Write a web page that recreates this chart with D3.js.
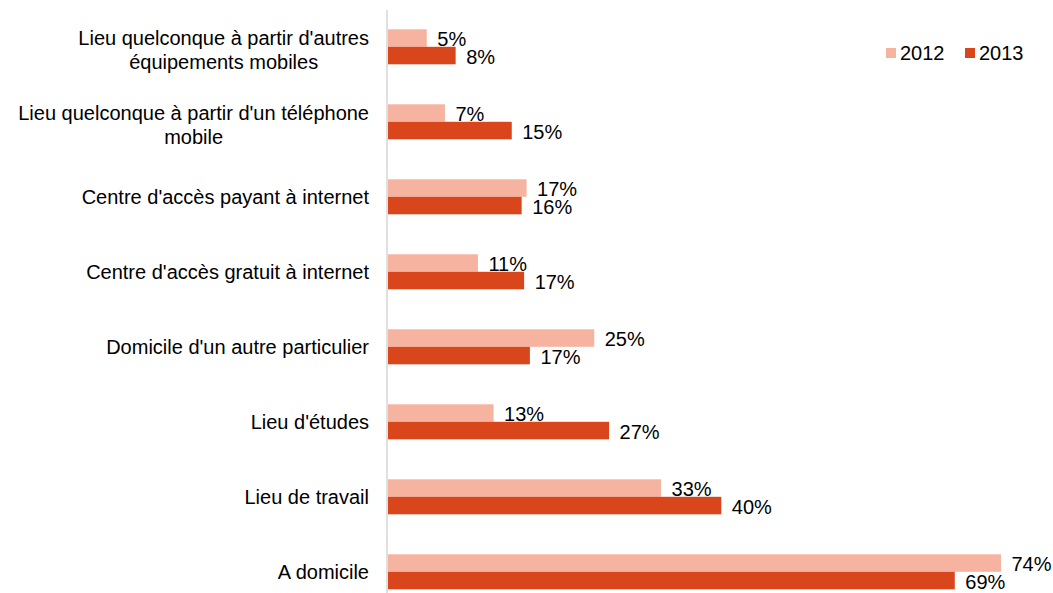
<!DOCTYPE html>
<html>
<head>
<meta charset="utf-8">
<script src="https://cdn.jsdelivr.net/npm/d3@7"></script>
<style>
  html, body { margin: 0; padding: 0; background: #fff; }
  text { font-family: "Liberation Sans", Arial, sans-serif; fill: #000; }
</style>
</head>
<body>
<svg id="chart" width="1053" height="593"></svg>
<script>
const categories = [
  "Lieu quelconque à partir d'autres\néquipements mobiles",
  "Lieu quelconque à partir d'un téléphone\nmobile",
  "Centre d'accès payant à internet",
  "Centre d'accès gratuit à internet",
  "Domicile d'un autre particulier",
  "Lieu d'études",
  "Lieu de travail",
  "A domicile"
];
const seriesNames = ["2012", "2013"];
const values2012 = [4.7, 6.9, 16.8, 10.9, 25.0, 12.8, 33.1, 74.3];
const values2013 = [8.2, 15.0, 16.2, 16.5, 17.2, 26.8, 40.4, 68.7];
const colors = ["#F5B3A0", "#D9461C"];

const svg = d3.select("#chart");
const FS = 20;

const x = d3.scaleLinear().domain([0, 80]).range([388, 1048]);
const y = d3.scaleBand().domain(categories).range([9.3, 609.3])
  .paddingInner(40 / 75).paddingOuter(20 / 75);
const ySub = d3.scaleBand().domain(seriesNames).range([0, y.bandwidth()]);

// axis line
svg.append("line")
  .attr("x1", 387).attr("x2", 387)
  .attr("y1", 10).attr("y2", 593)
  .attr("stroke", "#D9D9D9").attr("stroke-width", 1.6);

const data = categories.map((c, i) => ({ cat: c, vals: [values2012[i], values2013[i]] }));

const groups = svg.selectAll("g.grp").data(data).join("g")
  .attr("class", "grp")
  .attr("transform", d => `translate(0,${y(d.cat)})`);

groups.selectAll("rect").data(d => d.vals.map((v, k) => ({ v, k }))).join("rect")
  .attr("x", x(0))
  .attr("y", d => ySub(seriesNames[d.k]))
  .attr("width", d => x(d.v) - x(0))
  .attr("height", ySub.bandwidth())
  .attr("fill", d => colors[d.k]);

groups.selectAll("text.val").data(d => d.vals.map((v, k) => ({ v, k }))).join("text")
  .attr("class", "val")
  .attr("x", d => x(d.v) + 10.5)
  .attr("y", d => ySub(seriesNames[d.k]) + ySub.bandwidth() / 2 + 1)
  .attr("dy", "0.35em")
  .attr("font-size", FS)
  .text(d => Math.round(d.v) + "%");

// category labels
categories.forEach(c => {
  const lines = c.split("\n");
  const cy = y(c) + y.bandwidth() / 2 + (lines.length > 1 ? 3 : 0);
  const g = svg.append("g");
  const texts = lines.map((ln, i) => g.append("text")
    .attr("y", cy + (i - (lines.length - 1) / 2) * 23.5)
    .attr("dy", "0.35em")
    .attr("font-size", FS)
    .attr("text-anchor", "middle")
    .text(ln));
  const w = d3.max(texts, t => t.node().getComputedTextLength());
  texts.forEach(t => t.attr("x", 369 - w / 2));
});

// legend
const legX = [886, 965];
seriesNames.forEach((s, k) => {
  svg.append("rect").attr("x", legX[k]).attr("y", 48).attr("width", 10).attr("height", 10)
    .attr("fill", colors[k]);
  svg.append("text").attr("x", legX[k] + 14).attr("y", 53).attr("dy", "0.35em")
    .attr("font-size", FS).text(s);
});
</script>
</body>
</html>
